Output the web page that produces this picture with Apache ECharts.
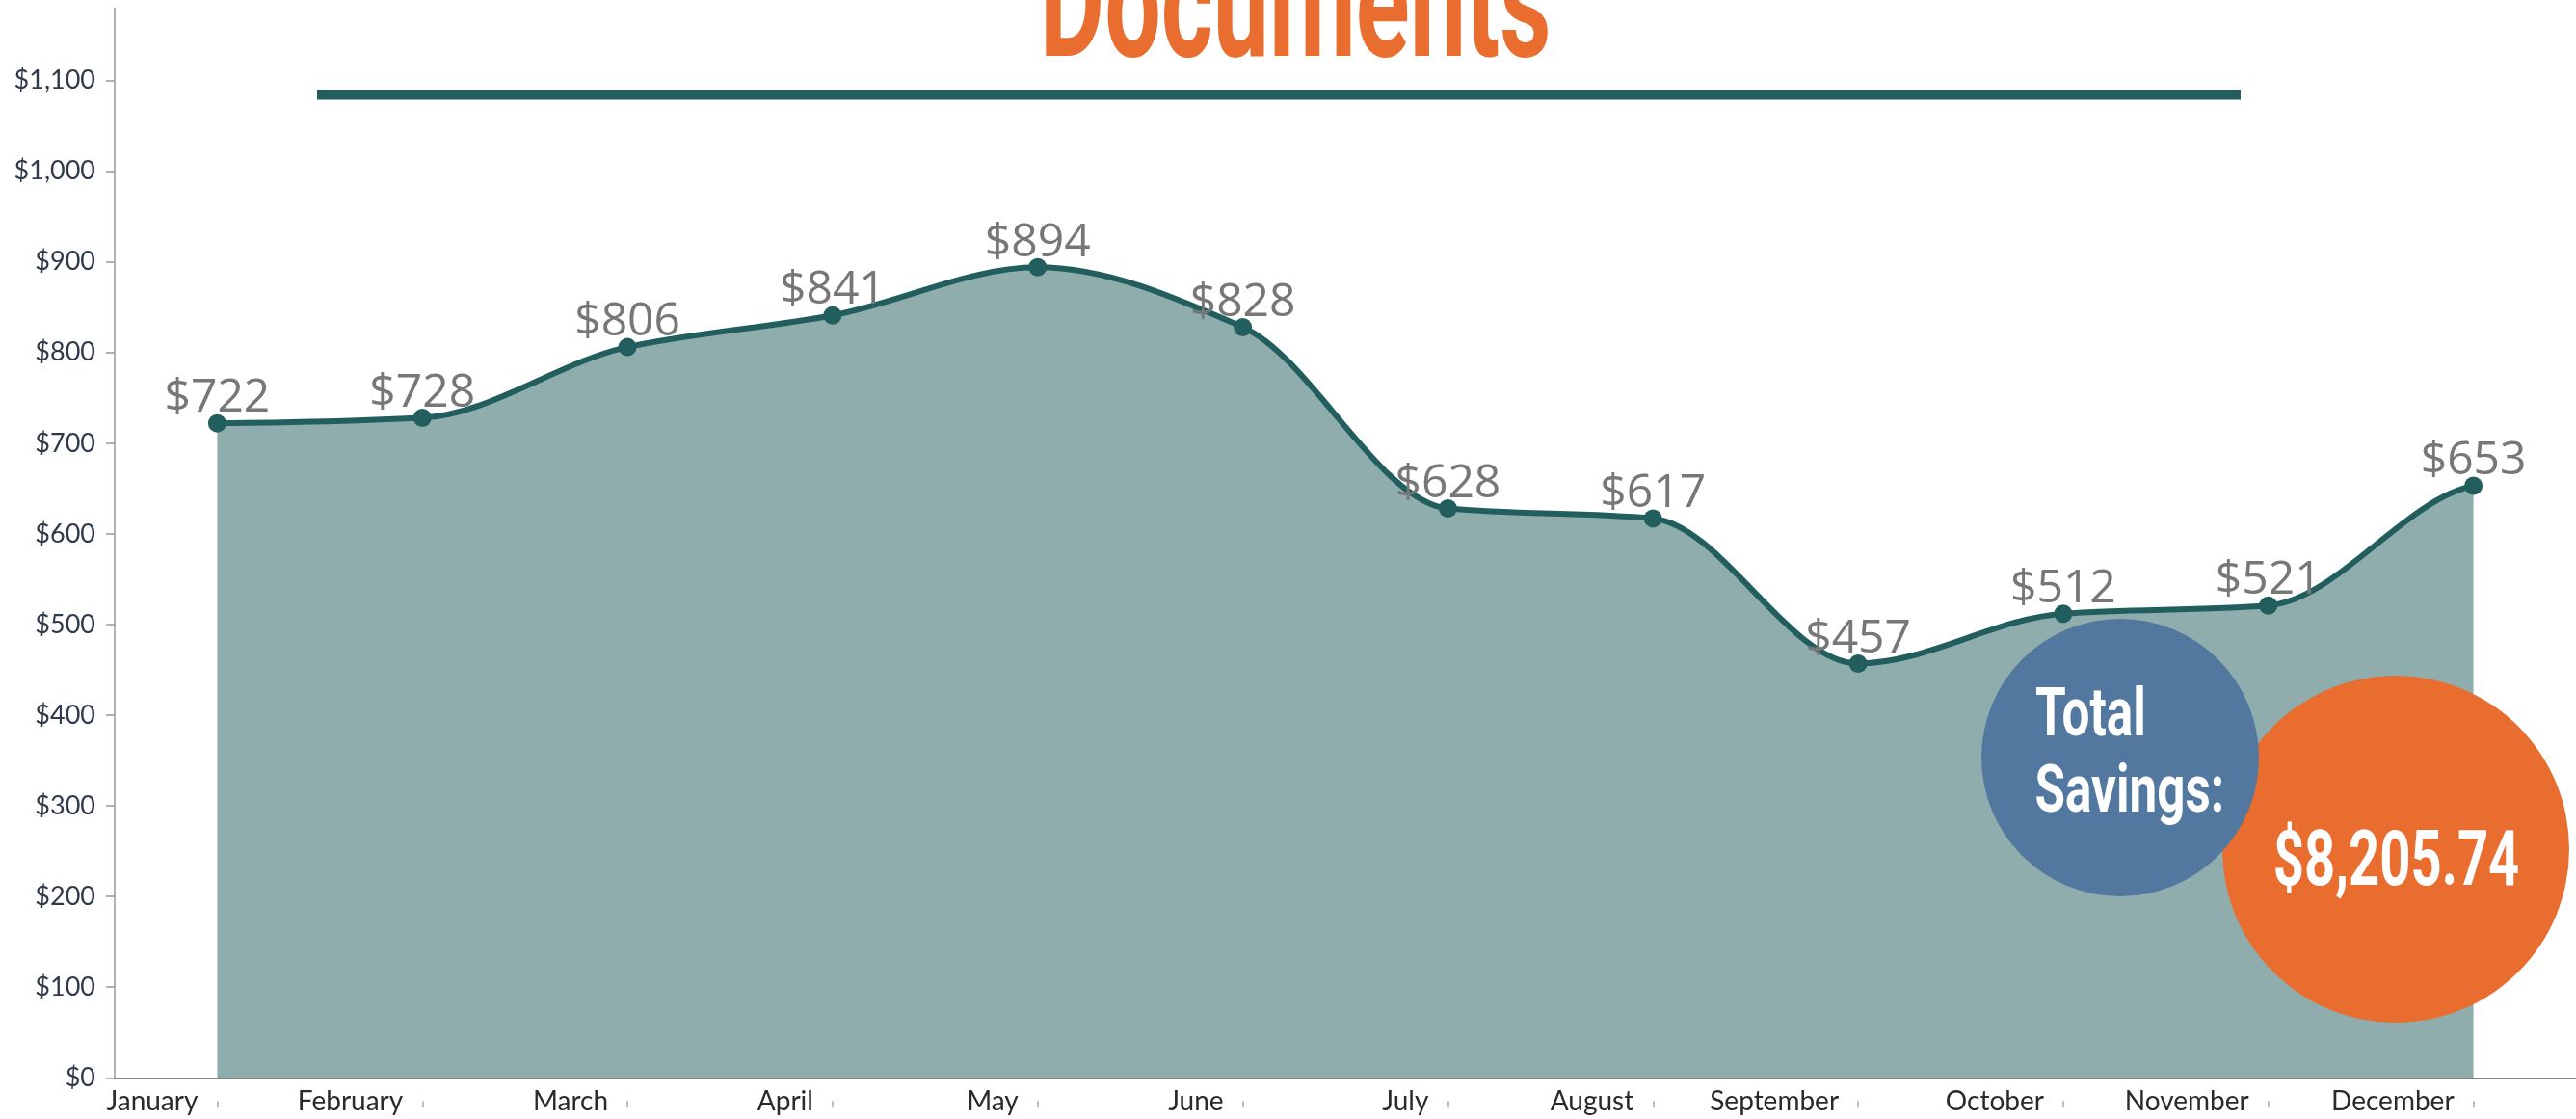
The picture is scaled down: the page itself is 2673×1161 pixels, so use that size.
<!DOCTYPE html>
<html>
<head>
<meta charset="utf-8">
<script src="https://cdn.jsdelivr.net/npm/echarts@6/dist/echarts.min.js"></script>
<style>
  html, body { margin: 0; padding: 0; background: #ffffff; }
  #chart { width: 2673px; height: 1161px; }
</style>
</head>
<body>
<div id="chart"></div>
<script>
// ---- data ----
const months = ['January', 'February', 'March', 'April', 'May', 'June',
                'July', 'August', 'September', 'October', 'November', 'December'];
const savings = [722, 728, 806, 841, 894, 828, 628, 617, 457, 512, 521, 653];
const yTicks = [0, 100, 200, 300, 400, 500, 600, 700, 800, 900, 1000, 1100];
const yMin = 0;
const yMax = 1180;   // the axis runs a little past the last labelled tick
const yStep = 100;
const titleText = 'Documents';
const totalLabel = ['Total', 'Savings:'];
const totalValue = '$8,205.74';

// ---- styles ----
const TEAL = '#235E5E';
const AREA = '#8FADAD';
const ORANGE = '#E96D2F';
const BLUE = '#52789F';
const DISPLAY_FONT = 'Roboto, "Liberation Sans", sans-serif';

function money(v) {
  return '$' + v.toLocaleString('en-US');
}

// Condensed display text: squeeze a regular bold face to a target box.
const mctx = document.createElement('canvas').getContext('2d');
function fitText(str, left, baseline, targetW, capH, fill, z) {
  mctx.font = 'bold 100px ' + DISPLAY_FONT;
  mctx.textBaseline = 'middle';
  mctx.textAlign = 'left';
  const m = mctx.measureText(str);
  const gw = m.actualBoundingBoxLeft + m.actualBoundingBoxRight;
  const h = mctx.measureText('H');
  const sx = targetW / gw;
  const sy = capH / (h.actualBoundingBoxAscent + h.actualBoundingBoxDescent);
  return {
    type: 'text',
    x: left + m.actualBoundingBoxLeft * sx,
    y: baseline - h.actualBoundingBoxDescent * sy,
    scaleX: sx, scaleY: sy, z: z,
    style: { text: str, x: 0, y: 0, align: 'left', verticalAlign: 'middle',
             fontFamily: DISPLAY_FONT, fontWeight: 'bold', fontSize: 100, fill: fill }
  };
}

// Smoothed area + line (monotone-style tangents), positioned through the axes.
function renderCurve(params, api) {
  if (params.dataIndex !== 0) return null;
  const pts = savings.map(function (v, i) { return api.coord([i, v]); });
  const base = api.coord([0, 0])[1];
  const n = pts.length;
  const s = [];
  for (let i = 0; i < n - 1; i++) {
    s.push((pts[i + 1][1] - pts[i][1]) / (pts[i + 1][0] - pts[i][0]));
  }
  const m = [];
  m[0] = s[0] / 3;
  m[n - 1] = s[n - 2] / 3;
  for (let i = 1; i < n - 1; i++) {
    const a = s[i - 1], b = s[i];
    m[i] = (a * b <= 0) ? 0 : 2 * a * b / (a + b);
  }
  let d = 'M' + pts[0][0] + ' ' + pts[0][1];
  for (let i = 0; i < n - 1; i++) {
    const dx = (pts[i + 1][0] - pts[i][0]) / 3;
    d += ' C' + (pts[i][0] + dx) + ' ' + (pts[i][1] + m[i] * dx) + ' ' +
         (pts[i + 1][0] - dx) + ' ' + (pts[i + 1][1] - m[i + 1] * dx) + ' ' +
         pts[i + 1][0] + ' ' + pts[i + 1][1];
  }
  const area = d + ' L' + pts[n - 1][0] + ' ' + base + ' L' + pts[0][0] + ' ' + base + ' Z';
  return {
    type: 'group',
    children: [
      { type: 'path', shape: { pathData: area }, style: { fill: AREA, stroke: null } },
      { type: 'path', shape: { pathData: d },
        style: { fill: 'none', stroke: TEAL, lineWidth: 6, lineJoin: 'round', lineCap: 'round' } }
    ]
  };
}

const chart = echarts.init(document.getElementById('chart'), null, { renderer: 'canvas' });

chart.setOption({
  animation: false,
  backgroundColor: '#ffffff',
  grid: { left: 119, right: -3, top: 8.3, bottom: 42.7, containLabel: false },
  xAxis: [
    {
      type: 'category',
      data: months,
      boundaryGap: true,
      axisLine: { show: true, lineStyle: { color: '#868686', width: 2 } },
      axisTick: { show: false },
      axisLabel: {
        show: true,
        interval: 0,
        align: 'right',
        margin: 11,
        padding: [0, 20, 0, 0],
        fontFamily: 'Lato, sans-serif',
        fontSize: 28,
        color: '#2a2a2a'
      },
      z: 10
    },
    {
      type: 'category',
      data: months,
      position: 'bottom',
      offset: 24,
      boundaryGap: true,
      axisLine: { show: false },
      axisTick: { show: true, alignWithLabel: true, length: 7, lineStyle: { color: '#aaaaaa', width: 1.5 } },
      axisLabel: { show: false }
    }
  ],
  yAxis: {
    type: 'value',
    min: yMin,
    max: yMax,
    interval: yStep,
    splitLine: { show: false },
    axisLine: { show: true, lineStyle: { color: '#999999', width: 1.5 } },
    axisTick: { show: true, length: 9, customValues: yTicks, lineStyle: { color: '#999999', width: 1.5 } },
    axisLabel: {
      margin: 20,
      customValues: yTicks,
      fontFamily: 'Lato, sans-serif',
      fontSize: 27,
      color: '#2F3B4C',
      formatter: function (v) { return v > yTicks[yTicks.length - 1] ? '' : money(v); }
    }
  },
  series: [
    {
      type: 'custom',
      xAxisIndex: 0,
      renderItem: renderCurve,
      data: savings.map(function (v, i) { return [i, v]; }),
      encode: { x: 0, y: 1 },
      silent: true,
      z: 2
    },
    {
      type: 'line',
      xAxisIndex: 0,
      data: savings,
      symbol: 'circle',
      symbolSize: 19,
      lineStyle: { width: 0, opacity: 0 },
      itemStyle: { color: TEAL },
      label: {
        show: true,
        position: 'top',
        distance: -8,
        fontFamily: '"Open Sans", sans-serif',
        fontSize: 48,
        color: '#777777',
        formatter: function (p) { return money(p.value); }
      },
      z: 3
    }
  ],
  graphic: [
    // title (cut off at the top of the picture)
    fitText(titleText, 1085, 58, 521, 118, ORANGE, 100),
    // underline rule
    {
      type: 'rect', z: 100,
      shape: { x: 329, y: 93, width: 1996, height: 10.5 },
      style: { fill: TEAL }
    },
    // orange circle
    {
      type: 'circle', z: 100,
      shape: { cx: 2486, cy: 881, r: 180 },
      style: { fill: ORANGE }
    },
    // blue circle
    {
      type: 'circle', z: 101,
      shape: { cx: 2200, cy: 786, r: 144 },
      style: { fill: BLUE }
    },
    fitText(totalLabel[0], 2113, 763, 111, 51, '#ffffff', 102),
    fitText(totalLabel[1], 2113, 842, 192, 50, '#ffffff', 102),
    fitText(totalValue, 2361, 918, 252, 58, '#ffffff', 102)
  ]
});
</script>
</body>
</html>
